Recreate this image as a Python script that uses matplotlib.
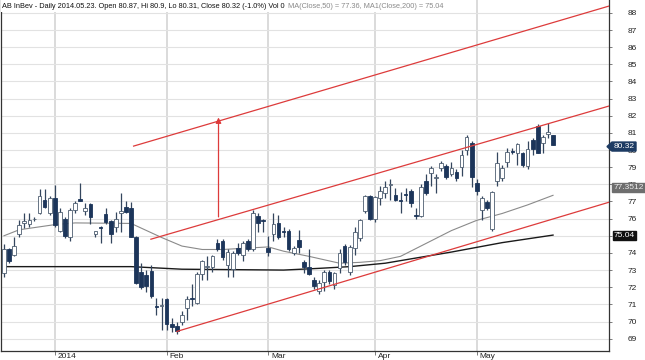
import matplotlib
matplotlib.use("Agg")
import matplotlib.pyplot as plt
from matplotlib.patches import Polygon, Rectangle
from matplotlib.transforms import IdentityTransform
import pandas as pd

# trading days (Euronext), 2013-12-16 .. 2014-05-23
holidays = ["2013-12-25", "2013-12-26", "2014-01-01", "2014-04-18", "2014-04-21", "2014-05-01"]
dates = pd.bdate_range("2013-12-16", "2014-05-23", freq="C", holidays=holidays)

opens = [72.8, 74.2, 73.9, 75.1, 75.75, 75.7, 75.95, 76.3, 77.1, 76.3,
         77.2, 75.3, 76.0, 74.9, 76.5, 77.15, 76.45, 76.85, 75.1, 75.5,
         76.27, 75.86, 75.5, 76.35, 76.7, 76.6, 74.9, 72.9, 72.7, 72.94,
         70.9, 70.9, 71.3, 69.85, 69.74, 70.0, 70.8, 71.4, 71.1, 72.77,
         73.2, 73.2, 74.6, 74.7, 73.3, 73.06, 74.3, 73.9, 74.7, 74.2,
         76.15, 75.9, 74.28, 75.1, 75.74, 75.25, 75.3, 74.0, 74.75, 73.47,
         73.2, 72.4, 71.8, 72.3, 72.9, 72.1, 73.1, 74.4, 72.9, 74.3,
         74.87, 76.44, 77.3, 76.0, 77.2, 77.5, 77.95, 77.4, 77.1, 77.45,
         77.6, 76.2, 76.15, 78.2, 78.66, 78.37, 78.95, 79.07, 78.6, 78.7,
         79.0, 80.0, 80.4, 78.07, 76.5, 76.97, 75.4, 78.2, 78.37, 79.3,
         79.95, 79.83, 79.83, 79.07, 80.6, 81.4, 80.4, 80.93, 80.87]
highs = [74.5, 74.3, 74.9, 75.9, 76.3, 76.3, 76.1, 77.7, 77.7, 77.3,
         77.95, 76.6, 76.1, 76.6, 77.0, 78.05, 76.9, 76.9, 75.3, 75.55,
         76.6, 75.9, 76.4, 77.5, 77.0, 76.95, 75.0, 73.4, 73.0, 73.3,
         71.4, 71.4, 71.4, 70.2, 70.0, 70.6, 71.5, 72.2, 72.9, 73.6,
         73.8, 73.9, 74.8, 74.8, 74.2, 74.1, 74.6, 74.7, 74.8, 76.5,
         76.3, 76.0, 75.0, 76.3, 76.2, 75.5, 75.4, 74.4, 75.35, 73.6,
         74.2, 72.6, 72.4, 73.0, 73.0, 72.9, 74.2, 74.5, 74.45, 75.5,
         76.0, 77.4, 77.4, 77.3, 77.9, 78.2, 78.3, 77.8, 77.55, 77.8,
         77.75, 76.6, 78.0, 78.6, 79.05, 78.6, 79.35, 79.2, 79.3, 78.9,
         80.0, 80.9, 80.5, 78.3, 77.3, 77.1, 77.6, 79.9, 79.1, 80.1,
         80.1, 80.4, 79.9, 80.5, 80.7, 81.5, 80.9, 81.57, 80.9]
lows = [72.6, 73.4, 73.8, 74.9, 75.45, 75.5, 75.85, 76.25, 76.6, 76.2,
        75.5, 75.2, 74.85, 74.7, 76.3, 77.0, 76.2, 75.7, 74.9, 74.6,
        75.7, 74.6, 75.2, 75.2, 76.3, 74.9, 72.2, 71.9, 71.7, 71.4,
        70.4, 69.5, 69.5, 69.4, 69.3, 69.8, 70.1, 70.9, 71.0, 72.4,
        72.4, 72.9, 74.1, 73.6, 72.6, 72.6, 73.9, 73.5, 74.1, 74.1,
        75.2, 75.2, 73.8, 74.7, 74.8, 74.9, 74.1, 73.9, 74.0, 72.8,
        72.7, 71.9, 71.6, 71.8, 72.2, 71.9, 72.8, 73.3, 72.7, 73.9,
        74.7, 76.3, 75.9, 75.8, 76.8, 77.2, 77.1, 77.0, 76.3, 77.0,
        76.7, 76.0, 76.1, 77.4, 77.9, 77.5, 78.8, 78.3, 78.5, 78.2,
        78.5, 79.7, 77.84, 77.4, 75.9, 76.5, 75.3, 77.9, 78.2, 79.0,
        79.75, 79.1, 79.0, 78.9, 79.7, 79.8, 79.83, 80.7, 80.31]
closes = [74.2, 73.5, 74.4, 75.6, 75.85, 75.9, 76.0, 77.3, 76.7, 77.2,
          75.6, 76.4, 75.0, 76.5, 76.9, 77.05, 76.6, 76.1, 75.25, 75.45,
          75.8, 75.1, 76.0, 76.45, 76.4, 74.95, 72.25, 72.0, 72.07, 71.5,
          70.85, 70.95, 69.85, 69.7, 69.45, 70.4, 71.3, 71.3, 72.77, 73.5,
          73.25, 73.8, 74.2, 73.76, 74.05, 74.0, 74.0, 74.57, 74.2, 76.3,
          75.74, 75.85, 74.05, 75.7, 74.9, 75.2, 74.2, 74.3, 74.35, 73.2,
          72.77, 72.07, 72.24, 72.9, 72.36, 72.8, 74.0, 73.47, 74.35, 75.2,
          75.9, 77.3, 76.0, 77.26, 77.6, 77.84, 78.0, 77.1, 77.05, 77.4,
          76.9, 76.15, 77.84, 77.5, 78.95, 78.45, 79.24, 78.4, 78.95, 78.37,
          79.7, 80.76, 78.4, 77.6, 77.2, 76.6, 77.55, 79.24, 78.95, 79.9,
          79.9, 80.35, 79.1, 80.06, 80.06, 79.83, 80.76, 81.05, 80.32]

# moving averages (bar number, value)
ma50_bar = [0, 3, 10, 14, 25, 31, 35, 39, 43, 49, 52, 55, 60, 66, 70, 74, 78, 84, 88, 93, 98, 103, 108]
ma50_val = [75.0, 75.35, 75.65, 75.75, 75.72, 74.9, 74.4, 74.2, 74.2, 74.3, 74.35, 74.1, 73.8, 73.4,
            73.45, 73.55, 73.8, 74.7, 75.3, 75.9, 76.3, 76.8, 77.36]
ma200_bar = [0, 25, 35, 55, 62, 68, 75, 88, 98, 108]
ma200_val = [73.2, 73.2, 73.05, 73.0, 73.1, 73.2, 73.4, 74.05, 74.6, 75.04]

# trend channel drawn by hand (bar, price) -> (bar, price)
channel = [((28.9, 74.8), (119.05, 82.57)),
           ((34.0, 69.42), (119.05, 76.96)),
           ((25.5, 80.23), (119.05, 88.4))]
arrow_bar, arrow_from, arrow_to = 42.2, 76.1, 81.9

title_main = "AB InBev - Daily 2014.05.23. Open 80.87, Hi 80.9, Lo 80.31, Close 80.32 (-1.0%) Vol 0"
title_ma = "MA(Close,50) = 77.36, MA1(Close,200) = 75.04"

plt.rcParams['font.family'] = ['Liberation Sans Narrow', 'Liberation Sans', 'DejaVu Sans']

UP_EDGE = "#4d5d70"
DOWN = "#1c355a"
RED = "#dd3b3b"

fig = plt.figure(figsize=(6.45, 3.6), dpi=100)
ax = fig.add_axes([0.0015, 0.025, 0.943, 0.975])

n = len(closes)
xs = list(range(n))

# wicks
ax.vlines(xs, lows, highs, color="#34465e", lw=0.9, zorder=3)
# bodies
for i in xs:
    o, c = opens[i], closes[i]
    lo = min(o, c)
    h = max(abs(c - o), 0.05)
    if c >= o:
        ax.bar(i, h, bottom=lo, width=0.72, facecolor="white", edgecolor=UP_EDGE, lw=0.6, zorder=4)
    else:
        ax.bar(i, h, bottom=lo, width=0.72, facecolor=DOWN, edgecolor=DOWN, lw=0.6, zorder=4)

ax.plot(ma50_bar, ma50_val, color="#8a8a8a", lw=0.8, zorder=2)
ax.plot(ma200_bar, ma200_val, color="#1a1a1a", lw=1.0, zorder=2)

for (x0, y0), (x1, y1) in channel:
    ax.plot([x0, x1], [y0, y1], color=RED, lw=0.9, zorder=5)
ax.annotate("", xy=(arrow_bar, arrow_to), xytext=(arrow_bar, arrow_from),
            arrowprops=dict(arrowstyle="-|>", color=RED, lw=0.9, mutation_scale=8,
                            shrinkA=0, shrinkB=0), zorder=5)

ax.set_xlim(-0.59, 119.05)
ax.set_ylim(68.28, 88.75)

# month ticks
month_pos, month_lab = [], []
for i in range(1, n):
    if dates[i].month != dates[i - 1].month:
        month_pos.append(i)
        month_lab.append(str(dates[i].year) if dates[i].month == 1 else dates[i].strftime("%b"))
ax.set_xticks(month_pos)
ax.set_xticklabels([])
ax.tick_params(axis="x", length=3, width=0.6, color="#666666")
for p, lab in zip(month_pos, month_lab):
    ax.annotate(lab, xy=(p, 0), xycoords=("data", "axes fraction"), xytext=(2, -1.5),
                textcoords="offset points", ha="left", va="top", fontsize=6, color="#222222")

ax.yaxis.tick_right()
ax.set_yticks(range(69, 89))
ax.tick_params(axis="y", length=2.5, width=0.6, color="#666666", labelsize=6, labelcolor="#222222", pad=14)
for lab in ax.get_yticklabels():
    lab.set_horizontalalignment("center")

ax.grid(axis="y", color="#e2e2e2", lw=0.8)
ax.grid(axis="x", color="#d4d4d4", lw=1.2)
ax.set_axisbelow(True)
ax.spines["top"].set_visible(False)
for s in ["left", "right", "bottom"]:
    ax.spines[s].set_color("#333333")
    ax.spines[s].set_linewidth(0.9)

# title line on a white strip
fig.canvas.draw()
r = fig.canvas.get_renderer()
t1 = fig.text(2, 354, title_main, transform=IdentityTransform(), fontsize=5.3, va="center", ha="left",
              color="#111111", zorder=6)
ext = t1.get_window_extent(r)
t2 = fig.text(ext.x1 + 3, 354, title_ma, transform=IdentityTransform(), fontsize=5.3, va="center",
              ha="left", color="#8a8a8a", zorder=6)
ext2 = t2.get_window_extent(r)
fig.add_artist(Rectangle((1, 348), ext2.x1 + 2, 12, transform=IdentityTransform(), fc="white",
                         ec="none", zorder=5))

# price tags on the right axis
def tag(price, text, fc, tc, x0, x1, nudge=0, pointed=False):
    yd = ax.transData.transform((0, price))[1] + nudge
    h = 4.5
    if pointed:
        pts = [(x0 - 5, yd), (x0, yd + h), (x1, yd + h), (x1, yd - h), (x0, yd - h)]
    else:
        pts = [(x0, yd + h), (x1, yd + h), (x1, yd - h), (x0, yd - h)]
    fig.add_artist(Polygon(pts, closed=True, transform=IdentityTransform(), fc=fc, ec=fc, zorder=10))
    fig.text((x0 + x1) / 2, yd, text, transform=IdentityTransform(), fontsize=6, color=tc,
             ha="center", va="center", zorder=11)

tag(80.32, "80.32", "#1d3b63", "white", 612, 636, nudge=-2, pointed=True)
tag(77.36, "77.3512", "#6e6e6e", "#eeeeee", 612, 645, nudge=8)
tag(75.04, "75.04", "#111111", "white", 613, 636)

fig.savefig("out.png", dpi=100)
